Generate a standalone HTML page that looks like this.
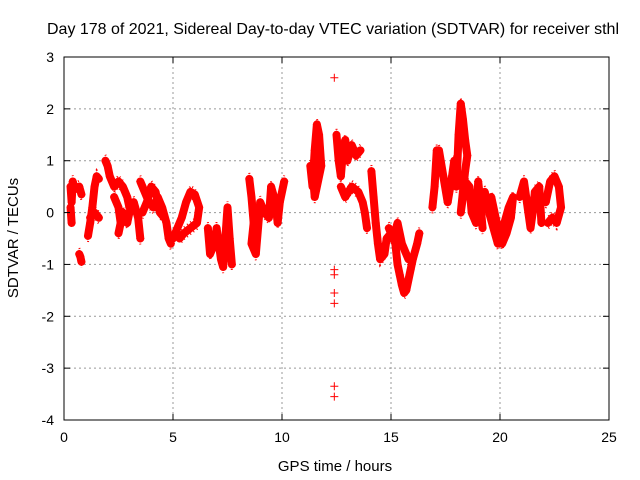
<!DOCTYPE html>
<html><head><meta charset="utf-8"><style>
body{margin:0;background:#fff}
svg{display:block;font-family:"Liberation Sans",sans-serif}
</style></head><body>
<svg id="chart" width="640" height="480" viewBox="0 0 640 480">
<rect width="640" height="480" fill="#fff"/>
<g id="grid"></g>
<g id="series"></g>
<rect x="64" y="57" width="545" height="363" fill="none" stroke="#000"/>
<g id="ticks"></g>
<text x="333" y="34" text-anchor="middle" font-size="16" textLength="572" lengthAdjust="spacingAndGlyphs">Day 178 of 2021, Sidereal Day-to-day VTEC variation (SDTVAR) for receiver sthl</text>
<text x="335" y="471" text-anchor="middle" font-size="15">GPS time / hours</text>
<text transform="translate(18,238) rotate(-90)" text-anchor="middle" font-size="15">SDTVAR / TECUs</text>
</svg>
<script>
const xTicks=[0,5,10,15,20,25];
const yTicks=[-4,-3,-2,-1,0,1,2,3];
const tracks=[
[[0.3,0.5],[0.35,0.2],[0.4,0.6],[0.5,0.45],[0.7,0.5],[0.8,0.35]],
[[0.3,0.1],[0.35,-0.2]],
[[0.7,-0.8],[0.75,-0.85],[0.8,-0.95]],
[[1.1,-0.45],[1.2,-0.2],[1.3,0.1],[1.4,0.5],[1.5,0.7],[1.6,0.65]],
[[1.2,-0.1],[1.4,0.0],[1.6,-0.1]],
[[1.9,1.0],[2.0,0.9],[2.1,0.7],[2.3,0.5],[2.5,0.6],[2.7,0.5],[2.9,0.3],[3.0,0.1]],
[[2.3,0.3],[2.5,0.1],[2.6,-0.2],[2.5,-0.4],[2.7,0.0],[2.9,-0.2],[3.0,0.0],[3.2,0.2],[3.4,-0.1],[3.5,-0.5]],
[[3.5,0.6],[3.7,0.4],[3.9,0.2],[4.1,0.1],[4.3,0.3],[4.5,0.1],[4.7,-0.2],[4.8,-0.5],[4.9,-0.6]],
[[3.6,0.0],[3.8,0.2],[4.0,0.5],[4.2,0.4],[4.4,0.0],[4.6,-0.1]],
[[5.0,-0.5],[5.2,-0.3],[5.4,-0.1],[5.6,0.2],[5.8,0.4],[6.0,0.35],[6.2,0.1],[6.1,-0.2],[5.8,-0.3],[5.5,-0.4],[5.3,-0.5]],
[[6.6,-0.3],[6.7,-0.8],[6.9,-0.6],[7.0,-0.3],[7.2,-0.9],[7.3,-1.05],[7.4,-0.5],[7.5,0.1],[7.6,-0.5],[7.7,-1.0]],
[[8.5,0.65],[8.6,0.3],[8.7,-0.2],[8.6,-0.6],[8.8,-0.8],[8.9,-0.3],[9.0,0.2],[9.2,0.0],[9.4,-0.1],[9.5,0.5],[9.7,0.2],[9.8,-0.2],[9.9,0.2],[10.1,0.6]],
[[11.3,0.9],[11.4,0.5],[11.5,1.2],[11.6,1.7],[11.7,1.5],[11.8,0.9],[11.5,0.3],[11.4,0.8]],
[[12.4,2.6]],[[12.4,-1.1]],[[12.4,-1.2]],[[12.4,-1.55]],[[12.4,-1.75]],[[12.4,-3.35]],[[12.4,-3.55]],
[[12.5,1.5],[12.6,1.0],[12.7,0.7],[12.8,1.2],[12.9,1.4],[13.0,1.0],[13.2,1.3],[13.4,1.1],[13.6,1.2]],
[[12.7,0.5],[12.9,0.3],[13.2,0.5],[13.5,0.4],[13.7,0.2],[13.8,0.0],[13.9,-0.3]],
[[14.1,0.8],[14.2,0.3],[14.3,-0.2],[14.4,-0.6],[14.5,-0.9],[14.7,-0.8],[14.8,-0.5],[15.0,-0.4],[15.2,-0.6],[15.3,-1.0],[15.4,-1.2],[15.5,-1.4],[15.6,-1.55],[15.7,-1.5],[15.9,-1.1],[16.0,-0.9],[16.2,-0.6],[16.3,-0.4]],
[[14.9,-0.3],[15.1,-0.5],[15.3,-0.2],[15.5,-0.6],[15.8,-0.9]],
[[16.9,0.1],[17.0,0.5],[17.1,1.2],[17.2,1.2],[17.4,0.7],[17.6,0.2],[17.8,0.7],[17.9,1.0],[18.0,0.5],[18.1,1.5],[18.2,2.1],[18.3,1.8],[18.4,1.4],[18.5,1.1],[18.4,0.8],[18.3,0.4],[18.2,0.0],[18.4,0.6],[18.6,0.5],[18.7,0.0],[18.8,-0.1],[18.9,-0.2],[19.0,0.6],[19.1,0.2],[19.2,-0.3]],
[[19.3,0.4],[19.5,0.0],[19.7,-0.3],[19.9,-0.6],[20.0,-0.5],[20.2,-0.2],[20.4,0.1],[20.6,0.3],[20.5,-0.1],[20.3,-0.4],[20.1,-0.6],[19.8,-0.1],[19.6,0.3]],
[[20.9,0.3],[21.1,0.6],[21.2,0.3],[21.3,0.0],[21.4,-0.3],[21.5,0.0],[21.6,0.4],[21.8,0.5],[21.9,-0.2]],
[[22.1,0.2],[22.3,0.6],[22.5,0.7],[22.7,0.5],[22.8,0.1],[22.6,-0.2],[22.4,-0.1],[22.2,-0.2]]
];
const NS="http://www.w3.org/2000/svg";
const X0=64,X1=609,Y0=420,Y1=57;
function sx(t){return X0+(t-0)/(25-0)*(X1-X0);}
function sy(v){return Y0-(v+4)/(3+4)*(Y0-Y1);}
function mk(tag,attrs,parent){const e=document.createElementNS(NS,tag);for(const k in attrs)e.setAttribute(k,attrs[k]);parent.appendChild(e);return e;}
const grid=document.getElementById('grid'),ticks=document.getElementById('ticks'),series=document.getElementById('series');
xTicks.forEach(t=>{
  const x=sx(t);
  if(t>0&&t<25){const g=mk('line',{x1:x,x2:x,y1:Y1,y2:Y0,stroke:'#999','stroke-dasharray':'2,3'},grid);
  
  }
  mk('line',{x1:x,x2:x,y1:Y0,y2:Y0-6,stroke:'#000'},ticks);
  mk('line',{x1:x,x2:x,y1:Y1,y2:Y1+6,stroke:'#000'},ticks);
  const l=mk('text',{x:x,y:Y0+22,'text-anchor':'middle','font-size':'14'},ticks);l.textContent=t;
  
  
});
yTicks.forEach(v=>{
  const y=sy(v);
  if(v>-4&&v<3){const g=mk('line',{x1:X0,x2:X1,y1:y,y2:y,stroke:'#999','stroke-dasharray':'2,3'},grid);
  
  }
  mk('line',{x1:X0,x2:X0+6,y1:y,y2:y,stroke:'#000'},ticks);
  mk('line',{x1:X1,x2:X1-6,y1:y,y2:y,stroke:'#000'},ticks);
  const l=mk('text',{x:X0-10,y:y+5,'text-anchor':'end','font-size':'14'},ticks);l.textContent=v;
  
  
});
tracks.forEach(tr=>{
  if(tr.length>1){
    const pts=tr.map(d=>sx(d[0])+','+sy(d[1])).join(' ');
    const p=mk('polyline',{points:pts,fill:'none',stroke:'#f00','stroke-width':'8','stroke-linejoin':'round','stroke-linecap':'round'},series);
    
    
    [-6,6].forEach(off=>{
      const q=mk('polyline',{points:pts,fill:'none',stroke:'#f00','stroke-width':'2','stroke-dasharray':'1,3',transform:`translate(0,${off})`},series);
      
      
    });
  }
  tr.forEach(d=>{
    const x=sx(d[0]),y=sy(d[1]);
    const m=mk('path',{d:`M${x-4},${y}h8M${x},${y-4}v8`,stroke:'#f00','stroke-width':'1'},series);
    
    
  });
});
</script>
</body></html>
